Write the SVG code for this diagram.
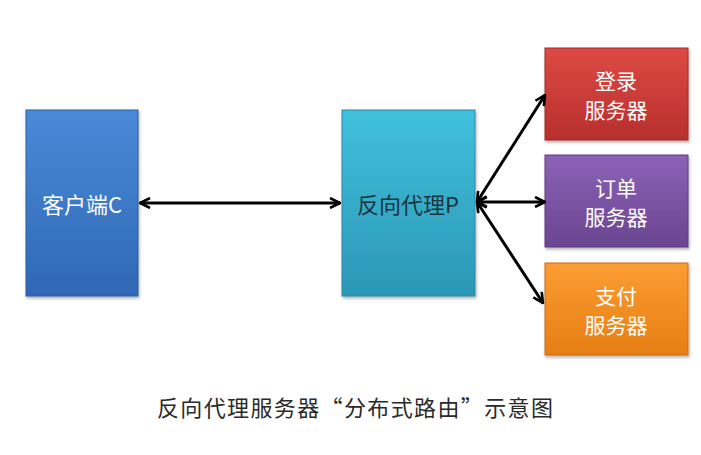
<svg xmlns="http://www.w3.org/2000/svg" width="701" height="455" viewBox="0 0 701 455">
<defs>
<linearGradient id="gBlue" x1="0" y1="0" x2="0" y2="1"><stop offset="0" stop-color="#4a8ad8"/><stop offset="1" stop-color="#2f68b4"/></linearGradient>
<linearGradient id="gCyan" x1="0" y1="0" x2="0" y2="1"><stop offset="0" stop-color="#40c0dc"/><stop offset="1" stop-color="#2b97b5"/></linearGradient>
<linearGradient id="gRed" x1="0" y1="0" x2="0" y2="1"><stop offset="0" stop-color="#de4a45"/><stop offset="1" stop-color="#b62f2c"/></linearGradient>
<linearGradient id="gPurple" x1="0" y1="0" x2="0" y2="1"><stop offset="0" stop-color="#8c62b6"/><stop offset="1" stop-color="#6a4590"/></linearGradient>
<linearGradient id="gOrange" x1="0" y1="0" x2="0" y2="1"><stop offset="0" stop-color="#fb9d33"/><stop offset="1" stop-color="#e67e14"/></linearGradient>
<filter id="sh" x="-10%" y="-10%" width="120%" height="120%"><feDropShadow dx="1" dy="2" stdDeviation="1.5" flood-color="#000" flood-opacity="0.3"/></filter>
<marker id="ah" viewBox="0 0 12 12" refX="11" refY="6" markerWidth="12" markerHeight="12" markerUnits="userSpaceOnUse" orient="auto-start-reverse">
<path d="M1,1 L11,6 L1,11" fill="none" stroke="#000" stroke-width="2.6" stroke-linejoin="miter"/>
</marker>
<style>
.box{filter:url(#sh);stroke-width:1}
.lbl{font-family:"Noto Sans CJK SC","Noto Sans",sans-serif;font-size:22px;text-anchor:middle;dominant-baseline:central}
.sm{font-size:21px}
.w{fill:#ffffff}
.d{fill:#1d3440}
.cap{font-family:"Noto Sans CJK SC",sans-serif;font-size:22px;fill:#2a2a2a;text-anchor:middle}
.con{stroke:#000;stroke-width:3;fill:none;marker-start:url(#ah);marker-end:url(#ah)}
</style>
</defs>
<rect width="701" height="455" fill="#ffffff"/>
<g id="client">
<rect class="box" x="26" y="110" width="112" height="186" fill="url(#gBlue)" stroke="#2a5f9f"/>
<text class="lbl w" x="82" y="203">客户端C</text>
</g>
<g id="proxy">
<rect class="box" x="342" y="110" width="133" height="186" fill="url(#gCyan)" stroke="#2a8aa6"/>
<text class="lbl d" x="408" y="203">反向代理P</text>
</g>
<g id="login">
<rect class="box" x="545" y="48" width="143" height="92" fill="url(#gRed)" stroke="#9e2a27"/>
<text class="lbl sm w" x="616" y="80">登录</text>
<text class="lbl sm w" x="616" y="109">服务器</text>
</g>
<g id="order">
<rect class="box" x="545" y="155" width="143" height="92" fill="url(#gPurple)" stroke="#5e3d80"/>
<text class="lbl sm w" x="616" y="187">订单</text>
<text class="lbl sm w" x="616" y="216">服务器</text>
</g>
<g id="pay">
<rect class="box" x="545" y="263" width="143" height="92" fill="url(#gOrange)" stroke="#c96c10"/>
<text class="lbl sm w" x="616" y="295">支付</text>
<text class="lbl sm w" x="616" y="324">服务器</text>
</g>
<g id="connectors">
<line class="con" x1="140" y1="203" x2="340" y2="203"/>
<line class="con" x1="477" y1="202" x2="545" y2="95"/>
<line class="con" x1="477" y1="202" x2="545" y2="202"/>
<line class="con" x1="477" y1="202" x2="543" y2="303"/>
</g>
<text class="cap" x="355" y="416" textLength="396" lengthAdjust="spacing">反向代理服务器“分布式路由”示意图</text>
</svg>
